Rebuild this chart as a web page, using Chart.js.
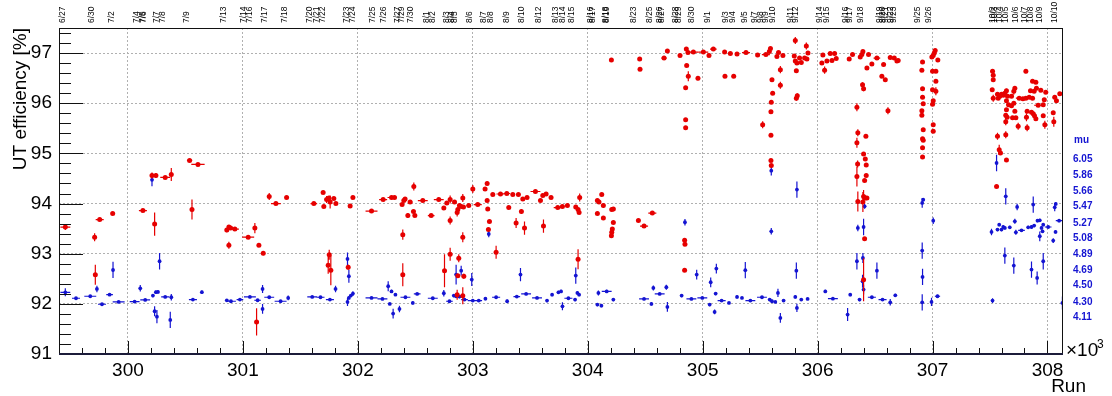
<!DOCTYPE html>
<html>
<head>
<meta charset="utf-8">
<script src="https://cdn.jsdelivr.net/npm/chart.js@4.4.1/dist/chart.umd.min.js"></script>
<style>
  html, body { margin: 0; padding: 0; background: #fff; }
</style>
</head>
<body>
<canvas id="c" width="1112" height="396"></canvas>
<script>
// [run, UT efficiency %, run half-width, efficiency error]
const effPoints = [
  [299455, 93.53, 43, 0.06], [299710, 93.33, 6, 0.08], [299754, 93.68, 35, 0.03], [299867, 93.80, 6, 0.03],
  [299716, 92.58, 6, 0.2], [300130, 93.86, 35, 0.02], [300232, 93.59, 6, 0.23], [300209, 94.56, 6, 0.06],
  [300243, 94.56, 12, 0.05], [300324, 94.52, 43, 0.02], [300377, 94.58, 6, 0.13], [300536, 94.86, 23, 0.02],
  [300609, 94.78, 58, 0.02], [300557, 93.88, 6, 0.2], [300860, 93.47, 6, 0.04],
  [300878, 93.53, 6, 0.03], [300893, 93.51, 6, 0.03], [300930, 93.49, 35, 0.02], [300878, 93.17, 6, 0.07],
  [301046, 93.33, 52, 0.02], [301104, 93.51, 6, 0.1], [301139, 93.17, 6, 0.03], [301177, 93.01, 6, 0.04],
  [301119, 91.64, 6, 0.27], [301229, 94.14, 6, 0.07], [301287, 94.00, 43, 0.02], [301380, 94.12, 6, 0.03],
  [301617, 94.00, 29, 0.03], [301698, 94.22, 6, 0.03], [301704, 93.94, 6, 0.03], [301728, 94.08, 6, 0.07],
  [301748, 94.11, 6, 0.03], [301759, 94.03, 6, 0.13], [301791, 94.10, 6, 0.03], [301809, 94.00, 6, 0.03],
  [301933, 93.95, 6, 0.03], [301957, 94.12, 6, 0.03], [301742, 92.77, 6, 0.17], [301751, 92.98, 6, 0.1],
  [301765, 92.67, 6, 0.3], [301916, 92.73, 6, 0.05], [302119, 93.85, 52, 0.02], [302220, 94.08, 35, 0.02],
  [302293, 94.12, 35, 0.02],
  [302319, 94.12, 6, 0.02], [302385, 93.98, 6, 0.03], [302400, 94.06, 6, 0.03], [302411, 94.09, 6, 0.03],
  [302455, 94.03, 20, 0.02], [302487, 94.34, 6, 0.08], [302435, 93.76, 6, 0.05], [302484, 93.84, 6, 0.03],
  [302496, 93.76, 6, 0.03], [302391, 93.38, 6, 0.1], [302391, 92.58, 6, 0.23], [302565, 94.06, 43, 0.02],
  [302638, 93.76, 29, 0.02], [302704, 94.08, 43, 0.02], [302748, 93.91, 6, 0.03], [302774, 94.01, 6, 0.03],
  [302803, 94.08, 6, 0.08], [302841, 94.03, 6, 0.03], [302803, 93.66, 6, 0.08], [302870, 93.88, 6, 0.03],
  [302864, 93.82, 6, 0.08], [302884, 93.96, 6, 0.03], [302899, 93.94, 6, 0.03], [302913, 94.11, 6, 0.08],
  [302919, 93.93, 6, 0.03], [302965, 93.96, 20, 0.02], [302913, 93.33, 6, 0.1], [302754, 92.66, 6, 0.33],
  [302803, 92.99, 6, 0.13], [302878, 92.91, 6, 0.08], [302870, 92.56, 6, 0.03], [302864, 92.18, 6, 0.1],
  [302913, 92.16, 6, 0.17], [302922, 92.55, 6, 0.05], [303000, 94.29, 6, 0.08], [303043, 93.98, 35, 0.02],
  [303107, 94.29, 6, 0.03], [303125, 94.40, 6, 0.04], [303125, 94.06, 6, 0.03], [303130, 93.89, 6, 0.03],
  [303145, 93.64, 6, 0.03], [303136, 93.48, 6, 0.03], [303203, 93.03, 6, 0.13], [303174, 94.18, 6, 0.02],
  [303241, 94.19, 35, 0.02], [303296, 94.20, 29, 0.02], [303348, 94.18, 6, 0.02], [303397, 94.18, 6, 0.02],
  [303313, 93.92, 6, 0.03], [303423, 93.84, 6, 0.05], [303435, 94.09, 6, 0.03], [303472, 94.12, 6, 0.03],
  [303377, 93.61, 6, 0.1], [303450, 93.51, 6, 0.13], [303545, 94.24, 43, 0.02], [303589, 94.06, 6, 0.03],
  [303609, 94.16, 6, 0.03], [303638, 94.19, 6, 0.03], [303681, 94.12, 6, 0.03], [303615, 93.55, 6, 0.13],
  [303739, 93.92, 35, 0.02],
  [303780, 93.94, 6, 0.02], [303823, 93.96, 6, 0.02], [303896, 93.93, 6, 0.03], [303930, 94.12, 6, 0.08],
  [303916, 93.88, 6, 0.03], [303925, 93.82, 6, 0.03], [303916, 92.89, 6, 0.2], [304084, 94.06, 6, 0.03],
  [304098, 94.03, 6, 0.03], [304122, 94.18, 6, 0.03], [304136, 93.96, 6, 0.05], [304084, 93.80, 6, 0.03],
  [304136, 93.71, 6, 0.03], [304209, 93.88, 6, 0.03], [304223, 93.89, 6, 0.03], [304223, 93.62, 6, 0.03],
  [304214, 93.49, 6, 0.03], [304209, 93.43, 6, 0.03], [304206, 93.36, 6, 0.03], [304206, 96.86, 6, 0.02],
  [304452, 96.88, 6, 0.02], [304455, 96.68, 6, 0.02], [304441, 93.66, 6, 0.03], [304490, 93.55, 35, 0.02],
  [304562, 93.81, 35, 0.02], [304664, 96.90, 23, 0.02], [304693, 97.04, 6, 0.02], [304803, 96.95, 6, 0.02],
  [304858, 97.08, 6, 0.02], [304872, 97.01, 6, 0.02], [304861, 96.75, 6, 0.02], [304875, 96.54, 6, 0.1],
  [304852, 96.31, 6, 0.02], [304852, 95.67, 6, 0.02], [304852, 95.51, 6, 0.02], [304919, 97.02, 43, 0.02],
  [305006, 97.02, 43, 0.02], [305055, 96.95, 6, 0.02], [305093, 97.08, 29, 0.02], [304959, 96.50, 6, 0.04],
  [305191, 97.02, 6, 0.02], [305194, 96.54, 6, 0.02], [304843, 93.27, 6, 0.03], [304846, 93.19, 6, 0.03],
  [304843, 92.67, 6, 0.03],
  [305241, 96.99, 6, 0.02], [305299, 96.98, 6, 0.02], [305377, 97.01, 35, 0.02], [305478, 96.96, 6, 0.02],
  [305550, 96.97, 35, 0.02], [305580, 97.03, 6, 0.02], [305590, 97.09, 6, 0.03], [305270, 96.54, 6, 0.02],
  [305660, 97.01, 6, 0.02], [305646, 96.93, 6, 0.02], [305698, 96.95, 6, 0.02], [305676, 96.67, 6, 0.07],
  [305676, 96.36, 6, 0.07], [305603, 96.47, 6, 0.02], [305609, 96.20, 6, 0.02], [305597, 96.02, 6, 0.02],
  [305594, 95.83, 6, 0.03], [305522, 95.57, 6, 0.07], [305594, 95.36, 6, 0.02], [305594, 94.86, 6, 0.02],
  [305597, 94.76, 6, 0.02], [305806, 97.25, 6, 0.07], [305797, 96.94, 6, 0.02], [305806, 96.84, 6, 0.02],
  [305820, 96.80, 6, 0.02], [305843, 96.90, 6, 0.02], [305858, 96.81, 6, 0.02], [305815, 96.65, 6, 0.02],
  [305887, 96.90, 6, 0.02], [305902, 97.14, 6, 0.07], [305916, 97.00, 6, 0.02], [305907, 96.88, 6, 0.02],
  [305815, 96.10, 6, 0.05], [305823, 96.15, 6, 0.05], [306046, 96.96, 6, 0.02], [306037, 96.80, 6, 0.02],
  [306061, 96.66, 6, 0.07], [306081, 96.84, 6, 0.02], [306110, 96.99, 6, 0.02], [306148, 96.99, 6, 0.02],
  [306125, 96.85, 6, 0.02], [306162, 96.89, 6, 0.02], [306275, 96.88, 6, 0.02], [306304, 96.97, 6, 0.02],
  [306371, 96.92, 6, 0.02], [306385, 96.97, 6, 0.02], [306394, 97.03, 6, 0.02], [306443, 96.97, 6, 0.02],
  [306391, 96.37, 6, 0.05], [306400, 96.29, 6, 0.05], [306429, 96.70, 6, 0.02], [306472, 96.78, 6, 0.02],
  [306516, 96.90, 29, 0.02], [306574, 96.77, 6, 0.02], [306589, 96.47, 6, 0.02], [306559, 96.54, 6, 0.02],
  [306632, 96.91, 6, 0.02], [306667, 96.90, 6, 0.02], [306690, 96.84, 6, 0.02], [306612, 95.85, 6, 0.07],
  [306342, 95.92, 6, 0.08], [306350, 95.41, 6, 0.07], [306342, 95.21, 6, 0.1], [306420, 95.34, 6, 0.02],
  [306400, 94.99, 6, 0.02], [306415, 94.89, 6, 0.02], [306423, 94.77, 6, 0.02], [306348, 94.79, 6, 0.07],
  [306342, 94.54, 6, 0.2], [306423, 94.56, 6, 0.02], [306409, 94.46, 6, 0.02], [306350, 94.04, 6, 0.2],
  [306400, 94.14, 6, 0.13], [306415, 94.11, 6, 0.02], [306429, 94.11, 6, 0.02], [306394, 94.03, 6, 0.2],
  [306409, 93.30, 6, 0.02], [306400, 92.48, 6, 0.43],
  [306701, 96.85, 6, 0.02], [306913, 96.82, 6, 0.02], [306907, 96.66, 6, 0.02], [306913, 96.29, 6, 0.02],
  [306913, 96.12, 6, 0.02], [306919, 95.99, 6, 0.02], [306907, 95.85, 6, 0.02], [306907, 95.76, 6, 0.02],
  [306919, 95.47, 6, 0.02], [306913, 95.29, 6, 0.02], [306919, 95.26, 6, 0.02], [306913, 95.11, 6, 0.02],
  [306913, 94.93, 6, 0.02], [306994, 96.92, 6, 0.02], [307006, 96.95, 6, 0.02], [307015, 97.00, 6, 0.02],
  [307023, 97.05, 6, 0.02], [307046, 96.86, 6, 0.02], [307000, 96.64, 6, 0.02], [307029, 96.64, 6, 0.02],
  [307029, 96.44, 6, 0.02], [307000, 96.27, 6, 0.02], [307029, 96.24, 6, 0.08], [307006, 96.05, 6, 0.02],
  [307000, 95.98, 6, 0.02], [307006, 95.57, 6, 0.02], [307006, 95.44, 6, 0.02],
  [307522, 96.64, 6, 0.02], [307528, 96.56, 6, 0.02], [307528, 96.47, 6, 0.02], [307519, 96.27, 6, 0.02],
  [307528, 96.10, 6, 0.07], [307565, 96.18, 6, 0.02], [307571, 96.10, 6, 0.02], [307585, 96.14, 6, 0.02],
  [307600, 96.18, 6, 0.02], [307615, 96.16, 6, 0.02], [307629, 96.20, 6, 0.02], [307643, 96.25, 6, 0.04],
  [307652, 96.14, 6, 0.02], [307643, 96.05, 6, 0.02], [307661, 95.97, 6, 0.02], [307643, 95.87, 6, 0.02],
  [307637, 95.76, 6, 0.02], [307649, 95.72, 6, 0.02], [307637, 95.63, 6, 0.07], [307565, 95.34, 6, 0.07],
  [307637, 95.37, 6, 0.07], [307580, 95.07, 6, 0.1], [307591, 95.01, 6, 0.02], [307643, 94.87, 6, 0.04],
  [307557, 94.34, 6, 0.02], [307687, 96.14, 6, 0.02], [307687, 95.95, 6, 0.02], [307707, 96.24, 6, 0.07],
  [307716, 96.30, 6, 0.02], [307707, 96.00, 6, 0.02], [307716, 95.84, 6, 0.02], [307725, 95.71, 6, 0.02],
  [307696, 95.71, 6, 0.02], [307745, 95.54, 6, 0.07], [307754, 96.10, 29, 0.02], [307786, 96.09, 6, 0.02],
  [307812, 96.64, 6, 0.04], [307812, 96.10, 6, 0.02], [307817, 95.72, 6, 0.08], [307823, 95.84, 6, 0.02],
  [307823, 95.51, 6, 0.07], [307841, 96.12, 6, 0.02], [307852, 96.25, 6, 0.02], [307870, 96.44, 6, 0.02],
  [307899, 96.42, 6, 0.02], [307904, 96.30, 6, 0.02], [307884, 96.24, 6, 0.02], [307870, 96.10, 6, 0.02],
  [307876, 95.79, 6, 0.02], [307887, 95.75, 6, 0.02], [307899, 95.69, 6, 0.02], [307861, 95.82, 6, 0.02],
  [307942, 96.26, 6, 0.02], [307919, 95.96, 35, 0.02], [307963, 95.97, 6, 0.02], [307972, 96.07, 6, 0.02],
  [307985, 96.22, 6, 0.02], [307963, 95.75, 6, 0.02], [307977, 95.57, 6, 0.08], [308050, 95.81, 6, 0.02],
  [308055, 95.63, 6, 0.1], [308063, 96.12, 6, 0.02], [308078, 96.05, 6, 0.02], [308107, 96.19, 6, 0.02]
];

// [run, mu, run half-width, mu error]
const muPoints = [
  [299455, 4.419, 43, 0.05], [299548, 4.346, 35, 0.01], [299672, 4.37, 52, 0.01], [299730, 4.46, 6, 0.04],
  [299774, 4.272, 35, 0.01], [299840, 4.39, 29, 0.01], [299870, 4.693, 6, 0.1], [299919, 4.301, 52, 0.01],
  [300058, 4.305, 43, 0.01], [300107, 4.468, 6, 0.04], [300150, 4.325, 43, 0.01], [300217, 4.378, 6, 0.02],
  [300243, 4.42, 6, 0.02], [300261, 4.423, 6, 0.02], [300232, 4.186, 6, 0.06], [300252, 4.12, 6, 0.08],
  [300209, 5.80, 6, 0.08], [300324, 4.362, 35, 0.01], [300377, 4.358, 6, 0.04], [300368, 4.08, 6, 0.1],
  [300275, 4.80, 6, 0.1], [300565, 4.33, 35, 0.01], [300643, 4.42, 6, 0.02], [300860, 4.32, 6, 0.01],
  [300896, 4.309, 43, 0.01], [300974, 4.33, 29, 0.01], [301061, 4.362, 52, 0.01], [301128, 4.321, 29, 0.01],
  [301171, 4.46, 6, 0.05], [301171, 4.215, 6, 0.06], [301229, 4.358, 43, 0.01], [301328, 4.309, 52, 0.01],
  [301394, 4.35, 6, 0.03], [301603, 4.362, 43, 0.01], [301675, 4.358, 35, 0.01], [301757, 4.33, 35, 0.01],
  [301806, 4.46, 6, 0.04], [301910, 4.301, 6, 0.05], [301922, 4.35, 6, 0.02], [301939, 4.378, 6, 0.02],
  [301957, 4.403, 6, 0.03], [301910, 4.829, 6, 0.08], [301922, 4.616, 6, 0.08], [302119, 4.35, 52, 0.01],
  [302214, 4.337, 43, 0.01], [302264, 4.493, 6, 0.06], [302293, 4.43, 6, 0.02], [302278, 4.276, 6, 0.01],
  [302307, 4.157, 6, 0.06],
  [302327, 4.39, 6, 0.01], [302362, 4.215, 6, 0.04], [302414, 4.358, 43, 0.01], [302478, 4.288, 6, 0.02],
  [302516, 4.399, 29, 0.01], [302652, 4.346, 43, 0.01], [302748, 4.407, 6, 0.04], [302797, 4.309, 29, 0.01],
  [302835, 4.378, 6, 0.02], [302855, 4.37, 6, 0.02], [302884, 4.366, 6, 0.02], [302855, 4.636, 6, 0.12],
  [302899, 4.685, 6, 0.06], [302928, 4.33, 29, 0.01], [302991, 4.575, 6, 0.08], [303000, 4.317, 43, 0.01],
  [303052, 4.317, 29, 0.01], [303110, 4.341, 6, 0.02], [303139, 5.135, 6, 0.04], [303203, 4.358, 35, 0.01],
  [303299, 4.309, 6, 0.02], [303383, 4.366, 29, 0.01], [303415, 4.636, 6, 0.08], [303464, 4.399, 43, 0.01],
  [303559, 4.35, 43, 0.01], [303646, 4.317, 6, 0.02], [303690, 4.39, 6, 0.02], [303745, 4.419, 6, 0.02],
  [303768, 4.43, 6, 0.02],
  [303780, 4.247, 6, 0.05], [303832, 4.346, 35, 0.01], [303890, 4.33, 6, 0.02], [303910, 4.411, 6, 0.02],
  [303925, 4.39, 6, 0.02], [303896, 4.624, 6, 0.1], [304093, 4.411, 6, 0.03], [304084, 4.268, 6, 0.02],
  [304119, 4.255, 6, 0.02], [304165, 4.43, 43, 0.02], [304223, 4.33, 6, 0.02], [304490, 4.337, 43, 0.01],
  [304554, 4.276, 6, 0.02], [304571, 4.472, 6, 0.03], [304626, 4.399, 43, 0.01], [304684, 4.481, 6, 0.03],
  [304693, 4.239, 6, 0.06], [304817, 4.378, 6, 0.02], [304846, 5.279, 6, 0.04], [304902, 4.337, 43, 0.01],
  [304997, 4.35, 43, 0.01], [304948, 4.636, 6, 0.06], [305061, 4.268, 6, 0.02], [305070, 4.542, 6, 0.06],
  [305113, 4.403, 6, 0.02], [305104, 4.178, 6, 0.03], [305119, 4.71, 6, 0.06], [305165, 4.317, 35, 0.01],
  [305229, 4.288, 6, 0.01],
  [305299, 4.362, 6, 0.02], [305342, 4.35, 6, 0.01], [305415, 4.317, 43, 0.01], [305371, 4.69, 6, 0.1],
  [305516, 4.358, 43, 0.01], [305583, 4.33, 6, 0.02], [305603, 4.309, 6, 0.02], [305632, 4.301, 6, 0.01],
  [305655, 4.411, 6, 0.05], [305676, 4.104, 6, 0.06], [305704, 4.317, 6, 0.01], [305597, 5.913, 6, 0.06],
  [305597, 5.168, 6, 0.04], [305820, 5.68, 6, 0.1], [305815, 4.685, 6, 0.1], [305806, 4.362, 6, 0.02],
  [305820, 4.227, 6, 0.05], [305858, 4.33, 6, 0.01], [305913, 4.337, 6, 0.01], [306067, 4.43, 6, 0.02],
  [306133, 4.341, 43, 0.01], [306261, 4.145, 6, 0.08], [306284, 4.39, 6, 0.02], [306365, 4.33, 6, 0.02],
  [306342, 4.80, 6, 0.1], [306350, 5.209, 6, 0.04], [306400, 5.221, 6, 0.1], [306409, 5.475, 6, 0.03],
  [306394, 4.84, 6, 0.06], [306391, 4.554, 6, 0.08], [306400, 4.452, 6, 0.06], [306472, 4.358, 35, 0.01],
  [306565, 4.33, 35, 0.01], [306516, 4.685, 6, 0.1], [306632, 4.296, 6, 0.04], [306676, 4.382, 6, 0.02],
  [306910, 5.516, 6, 0.06], [306919, 5.557, 6, 0.02], [306910, 4.931, 6, 0.1], [306913, 4.608, 6, 0.1],
  [306910, 4.296, 6, 0.1], [306991, 4.301, 6, 0.05], [307006, 5.299, 6, 0.04], [307043, 4.37, 23, 0.02],
  [307522, 4.317, 6, 0.03], [307557, 6.007, 6, 0.1], [307637, 5.598, 6, 0.1], [307736, 5.467, 6, 0.04],
  [307876, 5.496, 6, 0.1], [308063, 5.463, 6, 0.05], [308072, 5.504, 6, 0.02], [308101, 5.299, 29, 0.02],
  [307513, 5.16, 6, 0.04], [307565, 5.189, 6, 0.02], [307580, 5.25, 6, 0.02], [307600, 5.189, 6, 0.02],
  [307615, 5.221, 6, 0.02], [307629, 5.209, 6, 0.02], [307672, 5.217, 6, 0.02], [307716, 5.291, 6, 0.03],
  [307725, 5.156, 6, 0.03], [307774, 5.18, 29, 0.01], [307832, 5.217, 6, 0.02], [307861, 5.221, 6, 0.02],
  [307884, 5.238, 6, 0.02], [307913, 5.299, 6, 0.02], [307933, 5.303, 6, 0.02], [307948, 5.209, 6, 0.02],
  [307963, 5.25, 6, 0.02], [307933, 5.107, 6, 0.06], [307957, 5.168, 6, 0.02], [308006, 5.221, 29, 0.01],
  [308050, 5.054, 6, 0.03], [308070, 5.16, 6, 0.02], [307629, 4.87, 6, 0.1], [307707, 4.747, 6, 0.1],
  [307861, 4.698, 6, 0.1], [307910, 4.595, 6, 0.08], [307963, 4.8, 6, 0.1], [308130, 4.288, 6, 0.08]
];

const xTicks = [300000, 301000, 302000, 303000, 304000, 305000, 306000, 307000, 308000];
const yTicks = [91, 92, 93, 94, 95, 96, 97];
const muTicks = [4.11, 4.30, 4.50, 4.69, 4.89, 5.08, 5.27, 5.47, 5.66, 5.86, 6.05];

// first run of each day, labelled along the top
const dateRuns = [299432, 299684, 299858, 300076, 300128, 300139, 300250, 300302, 300516, 300835,
  301011, 301061, 301191, 301365, 301583, 301641, 301693, 301902, 301954, 302128,
  302226, 302350, 302385, 302458, 302597, 302655, 302777, 302820, 302843, 302974,
  303096, 303154, 303293, 303423, 303577, 303719, 303785, 303858, 304023, 304041,
  304157, 304168, 304400, 304539, 304626, 304641, 304771, 304794, 304910, 305046,
  305200, 305263, 305365, 305452, 305502, 305548, 305611, 305771, 305815, 306017,
  306084, 306250, 306278, 306374, 306539, 306568, 306597, 306641, 306661, 306872,
  306968, 307524, 307539, 307583, 307641, 307728, 307800, 307858, 307930, 308061];
const dateLabels = ['6/27', '6/30', '7/2', '7/4', '7/5', '7/6', '7/7', '7/8', '7/9', '7/13',
  '7/14', '7/16', '7/17', '7/18', '7/20', '7/21', '7/22', '7/23', '7/24', '7/25',
  '7/26', '7/27', '7/29', '7/30', '8/1', '8/2', '8/3', '8/4', '8/5', '8/6',
  '8/7', '8/8', '8/9', '8/10', '8/12', '8/13', '8/14', '8/15', '8/16', '8/17',
  '8/18', '8/19', '8/23', '8/25', '8/26', '8/27', '8/28', '8/29', '8/30', '9/1',
  '9/3', '9/4', '9/5', '9/7', '9/8', '9/9', '9/10', '9/11', '9/12', '9/14',
  '9/15', '9/16', '9/17', '9/18', '9/19', '9/20', '9/21', '9/22', '9/23', '9/25',
  '9/26', '10/2', '10/3', '10/4', '10/5', '10/6', '10/7', '10/8', '10/9', '10/10'];

const RED = '#e60000';
const BLUE = '#1414d2';
const FONT = "'Liberation Sans', Arial, Helvetica, sans-serif";
Chart.defaults.font.family = FONT;

const toXY = p => ({ x: p[0], y: p[1], ex: p[2], ey: p[3] });

// error bars, inward ROOT style ticks, frame and loose labels
const rootStyle = {
  id: 'rootStyle',
  beforeDatasetDraw(chart, args) {
    const ds = chart.data.datasets[args.index];
    const xs = chart.scales.x, ys = chart.scales[ds.yAxisID];
    const a = chart.chartArea, ctx = chart.ctx;
    ctx.save();
    ctx.beginPath();
    ctx.rect(a.left, a.top, a.right - a.left, a.bottom - a.top);
    ctx.clip();
    ctx.strokeStyle = ds.backgroundColor;
    ctx.lineWidth = 1.2;
    ctx.beginPath();
    ds.data.forEach(d => {
      const px = xs.getPixelForValue(d.x), py = ys.getPixelForValue(d.y);
      const x0 = xs.getPixelForValue(d.x - d.ex), x1 = xs.getPixelForValue(d.x + d.ex);
      const y0 = ys.getPixelForValue(d.y - d.ey), y1 = ys.getPixelForValue(d.y + d.ey);
      ctx.moveTo(x0, py); ctx.lineTo(x1, py);
      ctx.moveTo(px, y0); ctx.lineTo(px, y1);
    });
    ctx.stroke();
    ctx.restore();
  },
  afterDraw(chart) {
    const a = chart.chartArea, ctx = chart.ctx;
    const xs = chart.scales.x, ys = chart.scales.y;
    ctx.save();
    ctx.strokeStyle = '#111';
    ctx.lineWidth = 1;
    ctx.beginPath();
    for (let v = 91; v < 97.5 + 1e-6; v += 0.2) {
      const y = Math.round(ys.getPixelForValue(v)) + 0.5;
      const major = Math.abs(v - Math.round(v)) < 1e-6;
      ctx.moveTo(a.left, y); ctx.lineTo(a.left + (major ? 24 : 12), y);
    }
    for (let v = 299400; v <= 308130; v += 200) {
      const x = Math.round(xs.getPixelForValue(v)) + 0.5;
      const major = v % 1000 === 0;
      ctx.moveTo(x, a.bottom); ctx.lineTo(x, a.bottom - (major ? 13 : 6));
    }
    ctx.stroke();
    ctx.strokeRect(a.left + 0.5, a.top + 0.5, a.right - a.left - 1, a.bottom - a.top);
    ctx.lineWidth = 2;
    ctx.strokeStyle = '#1c1c3a';
    ctx.beginPath();
    ctx.moveTo(a.left, a.bottom); ctx.lineTo(a.right, a.bottom);
    ctx.stroke();

    ctx.fillStyle = '#000';
    ctx.font = '19px ' + FONT;
    ctx.textAlign = 'right';
    ctx.textBaseline = 'alphabetic';
    ctx.fillText('Run', 1086, 392);
    ctx.textAlign = 'left';
    ctx.fillText('\u00d710', 1066, 356);
    ctx.font = '12px ' + FONT;
    ctx.fillText('3', 1097, 348);

    ctx.fillStyle = BLUE;
    ctx.font = 'bold 10px ' + FONT;
    ctx.fillText('mu', 1074, 143);
    ctx.restore();
  }
};

new Chart(document.getElementById('c'), {
  type: 'scatter',
  data: {
    datasets: [
      {
        label: 'UT efficiency',
        data: effPoints.map(toXY),
        yAxisID: 'y',
        backgroundColor: RED,
        borderColor: RED,
        pointRadius: 2.5,
        pointBorderWidth: 0
      },
      {
        label: 'mu',
        data: muPoints.map(toXY),
        yAxisID: 'mu',
        backgroundColor: BLUE,
        borderColor: BLUE,
        pointRadius: 1.9,
        pointBorderWidth: 0
      }
    ]
  },
  options: {
    responsive: false,
    animation: false,
    events: [],
    layout: { padding: 0 },
    plugins: { legend: { display: false }, tooltip: { enabled: false } },
    scales: {
      x: {
        type: 'linear', position: 'bottom', min: 299400, max: 308135,
        afterBuildTicks: s => { s.ticks = xTicks.map(v => ({ value: v })); },
        afterFit: s => { s.height = 42; },
        grid: { color: '#b0b0b0', lineWidth: 1, drawTicks: false },
        border: { display: false, dash: [2, 2] },
        ticks: { padding: 5, color: '#000', font: { size: 19 }, maxRotation: 0, autoSkip: false,
          callback: v => String(v / 1000) }
      },
      xTop: {
        type: 'linear', position: 'top', min: 299400, max: 308135,
        afterBuildTicks: s => { s.ticks = dateRuns.map(v => ({ value: v })); },
        afterFit: s => { s.height = 28; },
        grid: { display: false, drawTicks: false },
        border: { display: false },
        ticks: { autoSkip: false, minRotation: 90, maxRotation: 90, padding: 5, labelOffset: 10,
          color: '#000', font: { size: 8.5 }, callback: (v, i) => dateLabels[i] }
      },
      y: {
        type: 'linear', position: 'left', min: 91, max: 97.5,
        afterBuildTicks: s => { s.ticks = yTicks.map(v => ({ value: v })); },
        afterFit: s => { s.width = 59; },
        grid: { color: '#b0b0b0', lineWidth: 1, drawTicks: false },
        border: { display: false, dash: [2, 2] },
        ticks: { padding: 7, color: '#000', font: { size: 19 } },
        title: { display: true, text: 'UT efficiency [%]', align: 'end', color: '#000',
          font: { size: 19 }, padding: { top: 9, bottom: 0 } }
      },
      mu: {
        type: 'linear', position: 'right', min: 3.661, max: 7.665,
        afterBuildTicks: s => { s.ticks = muTicks.map(v => ({ value: v })); },
        afterFit: s => { s.width = 49; },
        grid: { display: false, drawTicks: false },
        border: { display: false },
        ticks: { padding: 10, color: BLUE, font: { size: 10, weight: 'bold' },
          callback: v => v.toFixed(2) }
      }
    }
  },
  plugins: [rootStyle]
});
</script>
</body>
</html>
